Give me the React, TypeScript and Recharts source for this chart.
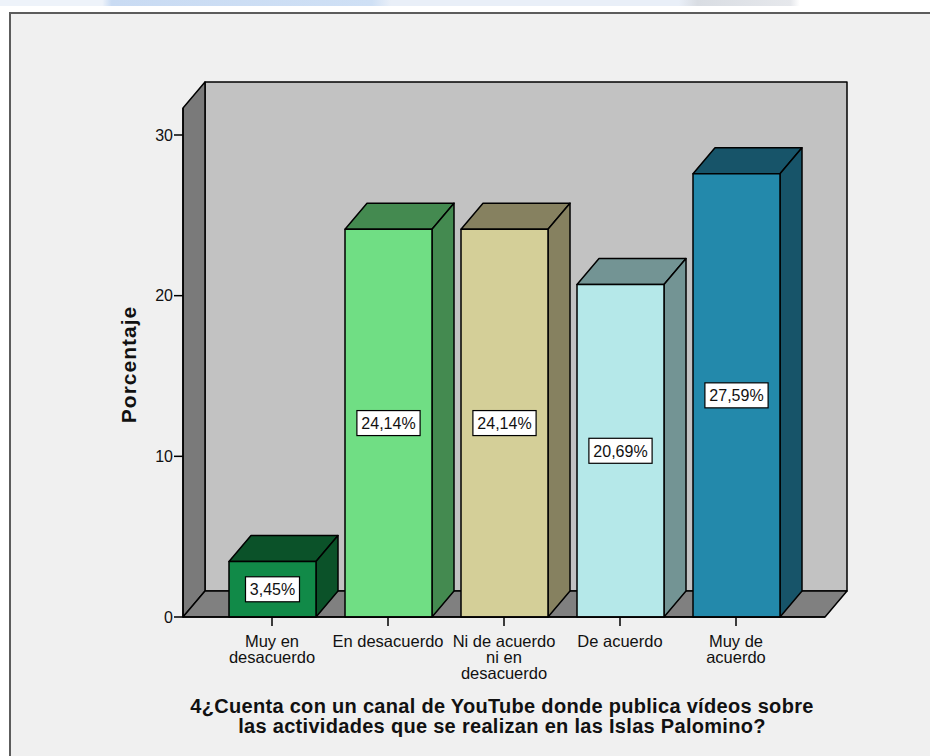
import { Bar, BarChart, Customized, Label, LabelList, XAxis, YAxis } from "recharts";

const categories = [
  "Muy en\ndesacuerdo",
  "En desacuerdo",
  "Ni de acuerdo\nni en\ndesacuerdo",
  "De acuerdo",
  "Muy de\nacuerdo",
];
const percentages = [3.45, 24.14, 24.14, 20.69, 27.59];
const yTicks = [0, 10, 20, 30];

const frontColors = ["#118a48", "#70de84", "#d4cf98", "#b5e8e9", "#2389ab"];
const shadeColors = ["#0b5229", "#448a50", "#868160", "#739494", "#175469"];

const rows = categories.map((name, i) => ({ name, pct: percentages[i] }));

const W = 930;
const H = 756;
const PLOT = { left: 183, right: 825, top: 108, bottom: 617 };
// depth offset of the 3D box
const DX = 22;
const DY = -26;
const FONT = "'Liberation Sans', Arial, sans-serif";

function Walls() {
  const { left, right, top, bottom } = PLOT;
  return (
    <g stroke="#000" strokeWidth={1.5} strokeLinejoin="round">
      <rect x={left + DX} y={top + DY} width={right - left} height={bottom - top} fill="#c2c2c2" />
      <polygon
        points={`${left},${top} ${left + DX},${top + DY} ${left + DX},${bottom + DY} ${left},${bottom}`}
        fill="#7a7a7a"
      />
      <polygon
        points={`${left},${bottom} ${left + DX},${bottom + DY} ${right + DX},${bottom + DY} ${right},${bottom}`}
        fill="#808080"
      />
    </g>
  );
}

function Box3D(props: any) {
  const { x, y, width, height, index } = props;
  const front = frontColors[index];
  const shade = shadeColors[index];
  const r = x + width;
  const b = y + height;
  return (
    <g stroke="#000" strokeWidth={1.5} strokeLinejoin="round">
      <polygon points={`${x},${y} ${x + DX},${y + DY} ${r + DX},${y + DY} ${r},${y}`} fill={shade} />
      <polygon points={`${r},${y} ${r + DX},${y + DY} ${r + DX},${b + DY} ${r},${b}`} fill={shade} />
      <rect x={x} y={y} width={width} height={height} fill={front} />
    </g>
  );
}

function ValueTag(props: any) {
  const { x, y, width, height, value } = props;
  const text = `${Number(value).toFixed(2).replace(".", ",")}%`;
  const cx = x + width / 2;
  const cy = y + height / 2;
  const w = text.length * 9.2 + 8;
  const h = 25;
  return (
    <g>
      <rect x={cx - w / 2} y={cy - h / 2} width={w} height={h} fill="#fff" stroke="#000" strokeWidth={1.2} />
      <text x={cx} y={cy + 6} textAnchor="middle" fontSize={16} fontFamily={FONT} fill="#111">
        {text}
      </text>
    </g>
  );
}

function CategoryTick(props: any) {
  const { x, y, payload } = props;
  const lines = String(payload.value).split("\n");
  return (
    <text textAnchor="middle" fontSize={16.5} fontFamily={FONT} fill="#111">
      {lines.map((ln, i) => (
        <tspan key={i} x={x} y={y + 19 + i * 16}>
          {ln}
        </tspan>
      ))}
    </text>
  );
}

function AxisTitle({ viewBox }: any) {
  const cx = viewBox.x + viewBox.width / 2 - 2;
  return (
    <text textAnchor="middle" fontSize={20} letterSpacing={0.3} fontWeight="bold" fontFamily={FONT} fill="#111">
      <tspan x={cx} y={713}>4¿Cuenta con un canal de YouTube donde publica vídeos sobre</tspan>
      <tspan x={cx} y={733}>las actividades que se realizan en las Islas Palomino?</tspan>
    </text>
  );
}

function YTitle({ viewBox }: any) {
  const cx = viewBox.x + 5;
  const cy = viewBox.y + viewBox.height / 2 + 2;
  return (
    <text
      x={cx}
      y={cy}
      transform={`rotate(-90 ${cx} ${cy})`}
      textAnchor="middle"
      dominantBaseline="central"
      fontSize={21}
      letterSpacing={1}
      fontWeight="bold"
      fontFamily={FONT}
      fill="#111"
    >
      Porcentaje
    </text>
  );
}

export default function App() {
  return (
    <div style={{ position: "fixed", left: 0, top: 0, width: W, height: H, background: "#fff", overflow: "hidden" }}>
      <div style={{ position: "absolute", left: 0, top: 0, width: W, height: 6, background: "linear-gradient(90deg, #eef3fa 0%, #eef3fa 11%, #c9dbf3 12%, #cfe0f5 40%, #e9eff8 42%, #e9eff8 73%, #d9dde3 75%, #e6e8ec 85%, #ffffff 86%)" }} />
      <div
        style={{
          position: "absolute",
          left: 9,
          top: 12,
          width: W,
          height: H,
          background: "#f0f0f0",
          borderLeft: "2px solid #5c5c5c",
          borderTop: "2px solid #5c5c5c",
        }}
      />
      <div style={{ position: "absolute", left: 0, top: 0 }}>
        <BarChart
          width={W}
          height={H}
          data={rows}
          barSize={87}
          margin={{ top: PLOT.top, right: W - PLOT.right, bottom: 0, left: PLOT.left - 60 }}
        >
          <Customized component={<Walls />} />
          <XAxis
            dataKey="name"
            interval={0}
            height={H - PLOT.bottom}
            padding={{ left: 31, right: 31 }}
            axisLine={{ stroke: "#000", strokeWidth: 1.5 }}
            tickLine={{ stroke: "#000", strokeWidth: 1.5 }}
            tickSize={9}
            tick={<CategoryTick />}
          >
            <Label content={<AxisTitle />} />
          </XAxis>
          <YAxis
            width={60}
            domain={[0, 31.68]}
            ticks={yTicks}
            axisLine={{ stroke: "#000", strokeWidth: 1.5 }}
            tickLine={{ stroke: "#000", strokeWidth: 1.5 }}
            tickSize={9}
            tickMargin={1}
            tick={{ fontSize: 16, fontFamily: FONT, fill: "#111" }}
          >
            <Label content={<YTitle />} />
          </YAxis>
          <Bar dataKey="pct" shape={<Box3D />} isAnimationActive={false}>
            <LabelList dataKey="pct" content={<ValueTag />} />
          </Bar>
        </BarChart>
      </div>
    </div>
  );
}
